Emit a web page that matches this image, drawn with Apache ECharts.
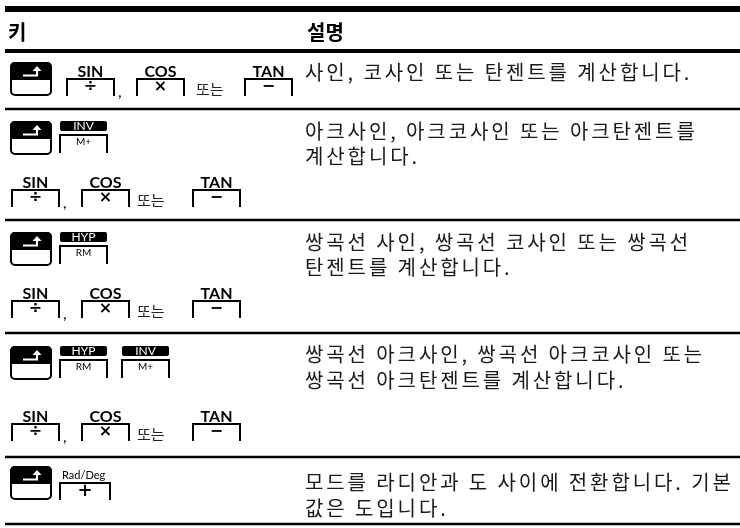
<!DOCTYPE html>
<html><head><meta charset="utf-8">
<script src="https://cdn.jsdelivr.net/npm/echarts@6/dist/echarts.min.js"></script>
<style>html,body{margin:0;padding:0;background:#fff}#c{width:740px;height:528px}</style>
</head><body><div id="c"></div>
<script>
// ---- content ----
const headers = ['키', '설명'];
const descriptions = [
  ['사인, 코사인 또는 탄젠트를 계산합니다.'],
  ['아크사인, 아크코사인 또는 아크탄젠트를', '계산합니다.'],
  ['쌍곡선 사인, 쌍곡선 코사인 또는 쌍곡선', '탄젠트를 계산합니다.'],
  ['쌍곡선 아크사인, 쌍곡선 아크코사인 또는', '쌍곡선 아크탄젠트를 계산합니다.'],
  ['모드를 라디안과 도 사이에 전환합니다. 기본', '값은 도입니다.']
];
const trigLabels = ['SIN', 'COS', 'TAN'];
const trigSymbols = ['÷', '×', '−'];
const prefixKeys = [[], ['INV'], ['HYP'], ['HYP', 'INV'], ['Rad/Deg']];
const keyFaces = { 'INV': 'M+', 'HYP': 'RM', 'Rad/Deg': '+' };
const orWord = '또는';
const separator = ',';

// ---- layout ----
const KR = '"Noto Sans CJK KR", "Noto Sans", sans-serif';
const LAT = 'Lato, "Open Sans", sans-serif';
const rowSeps = [53, 109, 220, 333, 457];
const bottomRule = 524;
const descX = 305;
const descFont = '20px ' + KR;
const letterSpacing = 2.9;
const descLines = [[72], [131, 156], [242, 267], [354, 380], [482, 508]];
const shiftTops = [63, 122, 233, 347, 467];
const trigLayout = [
  { x: 67, boxTop: 79, orX: 196, tanX: 245 },
  { x: 12, boxTop: 190, orX: 137, tanX: 193 },
  { x: 12, boxTop: 301, orX: 137, tanX: 193 },
  { x: 12, boxTop: 424, orX: 137, tanX: 193 },
  null
];

const measureCtx = document.createElement('canvas').getContext('2d');
const els = [];
function line(x1, y1, x2, y2, w) {
  els.push({ type: 'line', shape: { x1, y1, x2, y2 }, style: { stroke: '#000', lineWidth: w } });
}
function text(t, x, y, font, opts) {
  els.push({ type: 'text', style: Object.assign({ text: t, x, y, font, fill: '#000', textAlign: 'left', textVerticalAlign: 'middle' }, opts || {}) });
}
function spacedText(t, x, y, font, ls, opts) {
  measureCtx.font = font;
  for (const ch of t) {
    if (ch !== ' ') text(ch, x, y, font, opts);
    x += measureCtx.measureText(ch).width + ls;
  }
}
function shiftKey(x, y) {
  const w = 40, h = 32;
  els.push({ type: 'rect', shape: { x, y, width: w, height: h, r: 4 }, style: { fill: '#fff', stroke: '#000', lineWidth: 2 } });
  els.push({ type: 'rect', shape: { x: x - 1, y: y - 1, width: w + 2, height: 18, r: [5, 5, 0, 0] }, style: { fill: '#000' } });
  els.push({ type: 'polyline', shape: { points: [[x + 12, y + 12.5], [x + 26, y + 12.5], [x + 26, y + 7]] }, style: { stroke: '#fff', lineWidth: 2.2, fill: null } });
  els.push({ type: 'polygon', shape: { points: [[x + 21.5, y + 8], [x + 30.5, y + 8], [x + 26, y + 3]] }, style: { fill: '#fff' } });
}
function openKey(x, top, w, h, face, faceFont, dy) {
  els.push({ type: 'polyline', shape: { points: [[x, top + h], [x, top], [x + w, top], [x + w, top + h]] }, style: { stroke: '#000', lineWidth: 2, fill: null } });
  text(face, x + w / 2, top + (dy || 8), faceFont, { textAlign: 'center' });
}
function barKey(x, top, label) {
  const w = 47;
  els.push({ type: 'rect', shape: { x, y: top, width: w, height: 10, r: 2 }, style: { fill: '#000' } });
  text(label, x + w / 2, top + 5.5, '12px ' + LAT, { textAlign: 'center', fill: '#fff' });
  openKey(x, top + 14, w, 18, keyFaces[label], '10px ' + LAT, 7);
}
function labelKey(x, top, label, face) {
  const w = 47;
  text(label, x + w / 2, top - 7.5, 'bold 16px ' + LAT, { textAlign: 'center' });
  openKey(x, top, w, 17, face, 'bold 16px "DejaVu Sans", sans-serif', 8);
}

// rules
line(5, 9, 740, 9, 6);
line(5, 51, 740, 51, 4);
rowSeps.slice(1).forEach(y => line(5, y, 740, y, 2.5));
line(5, bottomRule, 740, bottomRule, 2.5);

// headers
text(headers[0], 8, 32, 'bold 20px ' + KR);
text(headers[1], 307, 32, 'bold 20px ' + KR);

// rows
descriptions.forEach((lines, i) => {
  lines.forEach((t, j) => spacedText(t, descX, descLines[i][j], descFont, letterSpacing, { fill: '#1a1a1a' }));
  shiftKey(11, shiftTops[i]);
  prefixKeys[i].forEach((k, j) => {
    const x = 60 + j * 62;
    if (k === 'Rad/Deg') {
      text(k, x + 2, shiftTops[i] + 8, '11px ' + LAT);
      openKey(x, shiftTops[i] + 16, 50, 17, keyFaces[k], 'bold 18px "DejaVu Sans", sans-serif', 8);
    } else {
      barKey(x, shiftTops[i] - 1, k);
    }
  });
  const tl = trigLayout[i];
  if (tl) {
    labelKey(tl.x, tl.boxTop, trigLabels[0], trigSymbols[0]);
    text(separator, tl.x + 51, tl.boxTop + 13, '16px ' + LAT);
    labelKey(tl.x + 70, tl.boxTop, trigLabels[1], trigSymbols[1]);
    text(orWord, tl.orX, tl.boxTop + 10, '15px ' + KR, { fill: '#222' });
    labelKey(tl.tanX, tl.boxTop, trigLabels[2], trigSymbols[2]);
  }
});

const chart = echarts.init(document.getElementById('c'), null, { renderer: 'canvas', width: 740, height: 528 });
chart.setOption({ backgroundColor: '#fff', animation: false, graphic: { elements: els } });
</script></body></html>
